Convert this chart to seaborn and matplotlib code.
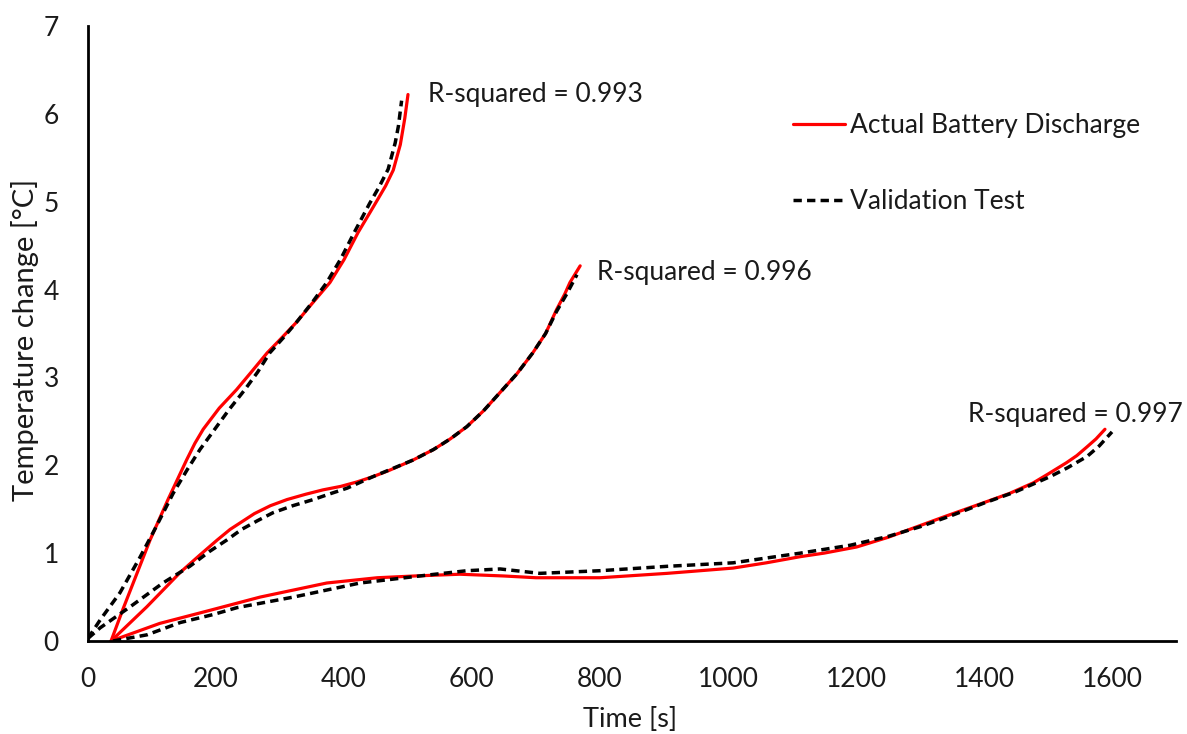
import matplotlib
matplotlib.use("Agg")
import matplotlib.pyplot as plt
import seaborn as sns
import pandas as pd

# ---- data ----
c1_act_t = [36, 55, 97, 125, 154, 167, 180, 205, 232, 255, 280, 300, 326, 350, 378, 400, 422, 440, 453, 465, 477, 488, 495, 500]
c1_act_y = [0, 0.37, 1.15, 1.61, 2.06, 2.25, 2.41, 2.65, 2.86, 3.06, 3.28, 3.43, 3.63, 3.84, 4.08, 4.34, 4.65, 4.87, 5.03, 5.18, 5.36, 5.65, 5.95, 6.22]
c1_val_t = [0, 19, 50, 81, 105, 133, 155, 175, 198, 220, 245, 265, 284, 305, 326, 350, 373, 395, 416, 440, 455, 469, 480, 485, 490]
c1_val_y = [0.03, 0.24, 0.55, 0.95, 1.28, 1.68, 1.95, 2.18, 2.41, 2.63, 2.86, 3.06, 3.28, 3.45, 3.63, 3.85, 4.08, 4.35, 4.65, 4.98, 5.17, 5.37, 5.67, 5.86, 6.15]

c2_act_t = [36, 92, 144, 175, 202, 222, 260, 285, 311, 340, 367, 395, 420, 445, 470, 508, 540, 566, 592, 618, 644, 670, 695, 715, 732, 745, 753, 769]
c2_act_y = [0, 0.39, 0.78, 0.98, 1.15, 1.27, 1.45, 1.54, 1.61, 1.67, 1.72, 1.76, 1.81, 1.87, 1.94, 2.06, 2.18, 2.30, 2.44, 2.62, 2.83, 3.04, 3.28, 3.50, 3.77, 3.95, 4.08, 4.27]
c2_val_t = [0, 19, 66, 117, 159, 190, 217, 240, 265, 289, 320, 352, 380, 405, 445, 475, 508, 540, 566, 592, 618, 644, 670, 695, 715, 732, 748, 764]
c2_val_y = [0.03, 0.15, 0.39, 0.66, 0.85, 1.02, 1.15, 1.27, 1.37, 1.46, 1.54, 1.61, 1.68, 1.74, 1.87, 1.96, 2.06, 2.18, 2.30, 2.44, 2.62, 2.83, 3.04, 3.28, 3.50, 3.75, 3.95, 4.17]

c3_act_t = [36, 112, 191, 269, 373, 452, 510, 581, 650, 700, 800, 905, 1008, 1060, 1113, 1150, 1201, 1250, 1295, 1340, 1398, 1440, 1477, 1500, 1529, 1545, 1561, 1575, 1589]
c3_act_y = [0, 0.20, 0.35, 0.50, 0.66, 0.72, 0.74, 0.76, 0.74, 0.72, 0.72, 0.77, 0.83, 0.89, 0.96, 1.00, 1.07, 1.18, 1.30, 1.42, 1.57, 1.68, 1.80, 1.90, 2.03, 2.11, 2.21, 2.30, 2.41]
c3_val_t = [39, 92, 144, 195, 233, 321, 425, 530, 592, 644, 706, 800, 905, 1008, 1113, 1191, 1250, 1300, 1350, 1400, 1450, 1503, 1530, 1561, 1580, 1600]
c3_val_y = [0, 0.07, 0.21, 0.30, 0.38, 0.50, 0.66, 0.75, 0.80, 0.82, 0.77, 0.80, 0.85, 0.89, 1.00, 1.09, 1.19, 1.30, 1.43, 1.57, 1.70, 1.87, 1.97, 2.10, 2.22, 2.38]

r2_labels = ["R-squared = 0.993", "R-squared = 0.996", "R-squared = 0.997"]
r2_pos_t = [531, 795, 1375]
r2_pos_y = [6.22, 4.19, 2.58]

x_ticks = [0, 200, 400, 600, 800, 1000, 1200, 1400, 1600]
y_ticks = [0, 1, 2, 3, 4, 5, 6, 7]

series_names = ["Actual Battery Discharge", "Validation Test"]

# ---- style ----
sns.set_theme(style="white")
plt.rcParams["font.family"] = ["Lato", "DejaVu Sans"]
FS = 19
TXT = "#1a1a1a"

fig = plt.figure(figsize=(11.87, 7.34), dpi=100)
ax = fig.add_axes([88 / 1187, 1 - 641 / 734, (1176 - 88) / 1187, (641 - 26) / 734])

act_style = dict(color="#ff0000", linewidth=2.3)
val_style = dict(color="black", linewidth=2.5, linestyle=(0, (2.4, 1.5)), dash_capstyle="butt")

curves = [
    (c1_act_t, c1_act_y, c1_val_t, c1_val_y),
    (c2_act_t, c2_act_y, c2_val_t, c2_val_y),
    (c3_act_t, c3_act_y, c3_val_t, c3_val_y),
]
for i, (at, ay, vt, vy) in enumerate(curves):
    df_a = pd.DataFrame({"t": at, "y": ay})
    df_v = pd.DataFrame({"t": vt, "y": vy})
    sns.lineplot(data=df_a, x="t", y="y", ax=ax, estimator=None, sort=False,
                 label=series_names[0] if i == 0 else None, zorder=2, **act_style)
    sns.lineplot(data=df_v, x="t", y="y", ax=ax, estimator=None, sort=False,
                 label=series_names[1] if i == 0 else None, zorder=3, **val_style)

for lab, tx, ty in zip(r2_labels, r2_pos_t, r2_pos_y):
    ax.text(tx, ty, lab, fontsize=FS, color=TXT, ha="left", va="center")

ax.set_xlim(0, 1700)
ax.set_ylim(0, 7)
ax.set_xticks(x_ticks)
ax.set_yticks(y_ticks)
ax.tick_params(axis="both", direction="in", length=7, width=1.8, labelsize=FS,
               colors="black", labelcolor=TXT)
ax.tick_params(axis="x", pad=19)
ax.tick_params(axis="y", pad=21)
for s in ["top", "right"]:
    ax.spines[s].set_visible(False)
for s in ["left", "bottom"]:
    ax.spines[s].set_linewidth(2.0)
    ax.spines[s].set_color("black")

ax.set_xlabel("Time [s]", fontsize=19.5, color=TXT)
ax.set_ylabel("Temperature change [°C]", fontsize=21, color=TXT)
ax.xaxis.set_label_coords(0.498, -0.107)
ax.yaxis.set_label_coords(-0.045, 0.489)

leg = ax.legend(loc="upper left", bbox_to_anchor=(0.648, 0.8585), frameon=False,
                fontsize=FS, handlelength=1.97, handletextpad=0.2, labelspacing=1.95,
                borderpad=0, borderaxespad=0)
for t in leg.get_texts():
    t.set_color(TXT)

fig.savefig("out.png", dpi=100)
